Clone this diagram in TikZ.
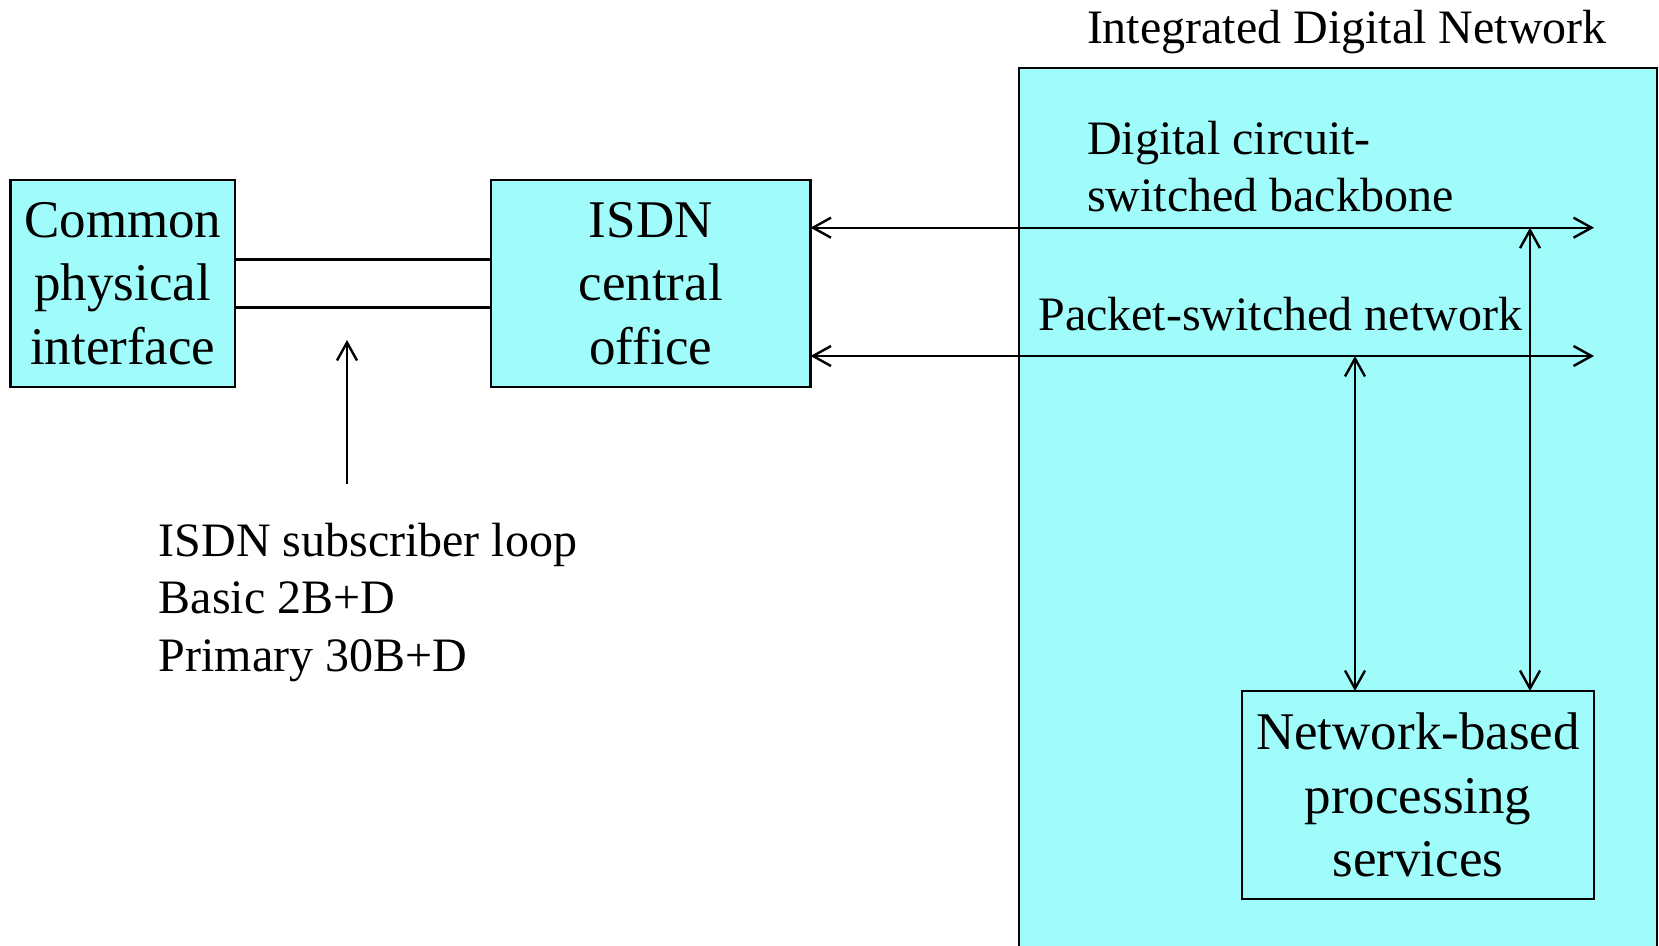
\documentclass[tikz,border=0pt]{standalone}
\usepackage{fontspec}
\setmainfont{Liberation Serif}
\usetikzlibrary{arrows.meta}
\definecolor{boxcyan}{RGB}{160,252,250}
\begin{document}
\begin{tikzpicture}[x=1pt,y=-1pt,
  every node/.style={inner sep=0pt, outer sep=0pt},
  boxnode/.style={draw=black, line width=2.4pt, fill=boxcyan, rectangle, align=center,
    font=\fontsize{53}{63.5}\selectfont},
  lbl/.style={anchor=base west, align=left, font=\fontsize{48}{57.5}\selectfont},
  conn/.style={line width=2.4pt},
  tips/.style={line width=2.4pt, arrows={Straight Barb[length=18pt,width=20pt,line width=2.4pt]-Straight Barb[length=18pt,width=20pt,line width=2.4pt]}},
  tipone/.style={line width=2.4pt, -{Straight Barb[length=18pt,width=20pt,line width=2.4pt]}}]
\useasboundingbox (0,0) rectangle (1659,945);
\clip (0,0) rectangle (1659,945);
% big network area
\node[draw=black, line width=2.4pt, fill=boxcyan, minimum width=638pt, minimum height=892pt] (idn) at (1338,513.7) {};
\node[lbl] (idnlabel) at (1087,43) {Integrated Digital Network};
% boxes
\node[boxnode, minimum width=224.4pt, minimum height=207pt] (cpi) at (122.8,283.5) {Common\\physical\\interface};
\node[boxnode, minimum width=319.5pt, minimum height=207pt] (isdn) at (650.75,283.5) {ISDN\\central\\office};
\node[boxnode, minimum width=352pt, minimum height=208pt] (nbps) at (1418,795) {Network-based\\processing\\services};
% subscriber loop lines
\draw[conn] ([yshift=24.2pt]cpi.east) -- ([yshift=24.2pt]isdn.west);
\draw[conn] ([yshift=-23.8pt]cpi.east) -- ([yshift=-23.8pt]isdn.west);
\coordinate (looptail) at (347,483.5);
\coordinate (looptip) at (347,340);
\draw[tipone] (looptail) -- (looptip);
\node[lbl] (looplabel) at (158.7,671) {ISDN subscriber loop\\Basic 2B+D\\Primary 30B+D};
% backbone and packet network
\coordinate (dcend) at (1594,227.7);
\coordinate (psend) at (1594,356);
\draw[tips] (isdn.east |- dcend) -- (dcend);
\draw[tips] (isdn.east |- psend) -- (psend);
\node[lbl] (dclabel) at (1087,211.8) {Digital circuit-\\switched backbone};
\node[lbl] (pslabel) at (1038.3,330) {Packet-switched network};
% vertical links
\coordinate (vps) at (1355,356);
\coordinate (vdc) at (1530,227.7);
\draw[tips] (vps) -- (vps |- nbps.north);
\draw[tips] (vdc) -- (vdc |- nbps.north);
\end{tikzpicture}
\end{document}
